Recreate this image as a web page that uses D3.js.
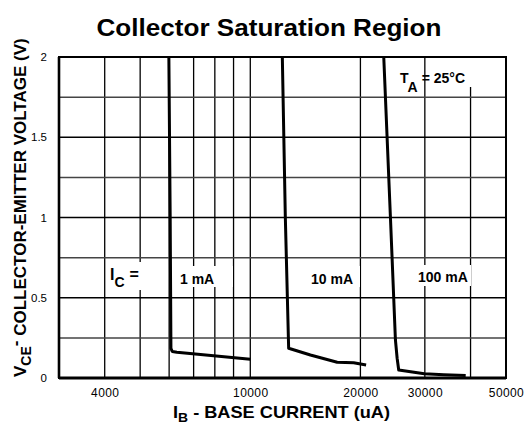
<!DOCTYPE html>
<html><head><meta charset="utf-8">
<script src="https://cdn.jsdelivr.net/npm/d3@7"></script>
<style>
body{margin:0;background:#fff;}
svg{display:block;font-family:"Liberation Sans",Arial,Helvetica,sans-serif;}
</style></head><body>
<svg id="c" width="525" height="424"></svg>
<script>
// ---- data ----
const xTickValues = [4000, 10000, 20000, 30000, 50000];
const xGridValues = [4000, 5000, 6000, 7000, 8000, 9000, 10000, 20000, 30000, 40000];
const yTickValues = [0, 0.5, 1, 1.5, 2];
const yMinorGrid = [0.25, 0.75, 1.25, 1.75];
const yMajorGrid = [0.5, 1, 1.5];

const ib1mA = [5990, 6040, 6068, 6120, 6300, 10000];
const vce1mA = [2.0, 1.0, 0.185, 0.165, 0.16, 0.117];
const ib10mA = [12234, 12468, 12731, 14600, 17280, 19170, 20730];
const vce10mA = [2.0, 1.0, 0.185, 0.143, 0.098, 0.095, 0.081];
const ib100mA = [23165, 24160, 24930, 25200, 25450, 29900, 33800, 38800];
const vce100mA = [2.0, 1.0, 0.237, 0.123, 0.05, 0.027, 0.02, 0.015];

const curveLabels = ["1 mA", "10 mA", "100 mA"];

// ---- layout ----
const L = 59, R = 506, T = 57, B = 378;
const svg = d3.select("#c");
const x = d3.scaleLog().domain([3000, 50000]).range([L, R]);
const y = d3.scaleLinear().domain([0, 2]).range([B, T]);

// title
svg.append("text").attr("x", 269).attr("y", 36).attr("text-anchor", "middle")
  .attr("font-size", 24).attr("font-weight", "bold")
  .attr("textLength", 345).attr("lengthAdjust", "spacingAndGlyphs")
  .text("Collector Saturation Region");

// grid
const g = svg.append("g");
g.selectAll(".vg").data(xGridValues).join("line")
  .attr("x1", d => x(d)).attr("x2", d => x(d)).attr("y1", T).attr("y2", B)
  .attr("stroke", "#000").attr("stroke-width", 1.3);
g.selectAll(".hmin").data(yMinorGrid).join("line")
  .attr("x1", L).attr("x2", R).attr("y1", d => y(d)).attr("y2", d => y(d))
  .attr("stroke", "#444").attr("stroke-width", 1.5);
g.selectAll(".hmaj").data(yMajorGrid).join("line")
  .attr("x1", L).attr("x2", R).attr("y1", d => y(d)).attr("y2", d => y(d))
  .attr("stroke", "#000").attr("stroke-width", 1.6);

// frame
svg.append("rect").attr("x", L).attr("y", T).attr("width", R - L).attr("height", B - T)
  .attr("fill", "none").attr("stroke", "#000").attr("stroke-width", 2);
svg.append("line").attr("x1", L).attr("x2", R).attr("y1", B).attr("y2", B)
  .attr("stroke", "#000").attr("stroke-width", 3);
svg.append("line").attr("x1", L).attr("x2", L).attr("y1", T).attr("y2", B)
  .attr("stroke", "#000").attr("stroke-width", 2.6);

// white label boxes
const boxes = [
  [107, 262, 42, 28],
  [174, 266, 59, 21],
  [306, 266, 54, 21],
  [415, 265, 56, 21],
  [397, 64, 24, 31],
  [427, 58, 51, 29]
];
svg.selectAll(".box").data(boxes).join("rect")
  .attr("x", d => d[0]).attr("y", d => d[1]).attr("width", d => d[2]).attr("height", d => d[3])
  .attr("fill", "#fff");

// curves
const lineX = d3.line().x(d => x(d[0])).y(d => y(d[1]));
const series = [
  d3.zip(ib1mA, vce1mA),
  d3.zip(ib10mA, vce10mA),
  d3.zip(ib100mA, vce100mA)
];
svg.selectAll(".crv").data(series).join("path")
  .attr("d", d => lineX(d))
  .attr("fill", "none").attr("stroke", "#000").attr("stroke-width", 3)
  .attr("stroke-linejoin", "round").attr("stroke-linecap", "butt");

// axes labels (ticks)
const xAxis = d3.axisBottom(x).tickValues(xTickValues).tickFormat(d3.format("d")).tickSize(0).tickPadding(10);
const xa = svg.append("g").attr("transform", `translate(0,${B})`).call(xAxis);
xa.select(".domain").remove();
xa.selectAll("text").attr("font-size", 12).attr("fill", "#000")
  .attr("font-family", "Liberation Sans,Arial,sans-serif").attr("letter-spacing", 0.4);

const yAxis = d3.axisLeft(y).tickValues(yTickValues).tickFormat(d => String(d)).tickSize(0).tickPadding(12);
const ya = svg.append("g").attr("transform", `translate(${L},0)`).call(yAxis);
ya.select(".domain").remove();
ya.selectAll("text").attr("font-size", 11.5).attr("fill", "#000")
  .attr("font-family", "Liberation Sans,Arial,sans-serif");

// curve labels
const labelPos = [[180, 284], [311, 284], [418, 282]];
svg.selectAll(".cl").data(curveLabels).join("text")
  .attr("x", (d, i) => labelPos[i][0]).attr("y", (d, i) => labelPos[i][1])
  .attr("font-size", 14).attr("font-weight", "bold").text(d => d);

// I_C =
const ic = svg.append("text").attr("x", 110).attr("y", 280).attr("font-weight", "bold").attr("font-size", 16);
ic.append("tspan").text("I");
ic.append("tspan").attr("font-size", 14).attr("dy", 7).text("C");
ic.append("tspan").attr("dy", -7).attr("dx", 5).text("=");

// T_A = 25°C
const ta = svg.append("text").attr("x", 400).attr("y", 83).attr("font-weight", "bold").attr("font-size", 14);
ta.append("tspan").text("T");
ta.append("tspan").attr("dy", 9).text("A");
ta.append("tspan").attr("dy", -9).attr("dx", 4).text("= 25°C");

// x-axis title
const xt = svg.append("text").attr("x", 173).attr("y", 418).attr("font-weight", "bold").attr("font-size", 17)
  .attr("textLength", 217).attr("lengthAdjust", "spacingAndGlyphs");
xt.append("tspan").text("I");
xt.append("tspan").attr("font-size", 13).attr("dy", 4).text("B");
xt.append("tspan").attr("dy", -4).text(" - BASE CURRENT  (uA)");

// y-axis title
const yt = svg.append("text").attr("transform", "translate(26,377) rotate(-90)")
  .attr("font-weight", "bold").attr("font-size", 17);
yt.append("tspan").text("V");
yt.append("tspan").attr("font-size", 14).attr("dy", 5).text("CE");
yt.append("tspan").attr("dy", -10).text("-");
yt.append("tspan").attr("dy", 5).text(" COLLECTOR-EMITTER VOLTAGE (V)");
</script>
</body></html>
